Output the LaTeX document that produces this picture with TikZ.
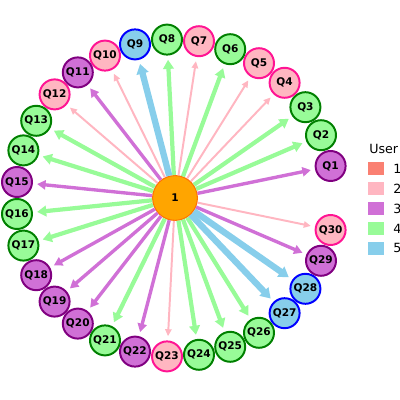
\documentclass[tikz,border=0pt]{standalone}
\usepackage{fontspec}
\setmainfont{DejaVu Sans}
\usetikzlibrary{arrows.meta}

\definecolor{usrsalmon}{HTML}{FA8072}
\definecolor{usrpink}{HTML}{FFB6C1}
\definecolor{usrorchid}{HTML}{D070D6}
\definecolor{usrgreen}{HTML}{98FB98}
\definecolor{usrblue}{HTML}{87CEEB}
\definecolor{usrorange}{HTML}{FFA500}
\definecolor{edgepink}{HTML}{FF1493}
\definecolor{edgepurple}{HTML}{800080}
\definecolor{edgegreen}{HTML}{008000}

\begin{document}
\begin{tikzpicture}[
  % Node Styles
  qnode/.style={circle, draw, line width=1.4pt, minimum size=0.75cm, inner sep=0pt, font=\bfseries\fontsize{7.5}{8}\selectfont},
  pinknode/.style={qnode, fill=usrpink, draw=edgepink},
  purplenode/.style={qnode, fill=usrorchid, draw=edgepurple},
  greennode/.style={qnode, fill=usrgreen, draw=edgegreen},
  bluenode/.style={qnode, fill=usrblue, draw=blue},
  unode/.style={circle, draw=orange!90!red, line width=0.8pt, fill=usrorange, minimum size=1.12cm, inner sep=0pt, font=\bfseries\fontsize{7.5}{8}\selectfont},
  keybox/.style={rectangle, minimum width=0.4cm, minimum height=0.33cm, inner sep=0pt},
  keytext/.style={anchor=west, inner sep=0pt, font=\fontsize{9}{10}\selectfont},
  % Arrow Styles
  pinkarrow/.style={-{Triangle[length=5pt, width=4.5pt]}, line width=1.4pt, draw=usrpink, shorten >=3pt},
  purplearrow/.style={-{Triangle[length=6pt, width=6.5pt]}, line width=2.4pt, draw=usrorchid, shorten >=3pt},
  greenarrow/.style={-{Triangle[length=6.5pt, width=7.5pt]}, line width=3pt, draw=usrgreen, shorten >=3pt},
  bluearrow/.style={-{Triangle[length=7pt, width=8.5pt]}, line width=4.5pt, draw=usrblue, shorten >=3pt},
]
\useasboundingbox (-4.375,-5.05) rectangle (5.625,4.95);

% User node
\node[unode] (U_1) at (0.00,0.00) {1};

% Question nodes
\node[purplenode] (Q1) at (3.89,0.80) {Q1};
\node[greennode] (Q2) at (3.65,1.57) {Q2};
\node[greennode] (Q3) at (3.26,2.27) {Q3};
\node[pinknode] (Q4) at (2.74,2.88) {Q4};
\node[pinknode] (Q5) at (2.10,3.37) {Q5};
\node[greennode] (Q6) at (1.38,3.72) {Q6};
\node[pinknode] (Q7) at (0.60,3.92) {Q7};
\node[greennode] (Q8) at (-0.20,3.96) {Q8};
\node[bluenode] (Q9) at (-1.00,3.84) {Q9};
\node[pinknode] (Q10) at (-1.75,3.56) {Q10};
\node[purplenode] (Q11) at (-2.43,3.14) {Q11};
\node[pinknode] (Q12) at (-3.01,2.59) {Q12};
\node[greennode] (Q13) at (-3.47,1.93) {Q13};
\node[greennode] (Q14) at (-3.79,1.19) {Q14};
\node[purplenode] (Q15) at (-3.95,0.40) {Q15};
\node[greennode] (Q16) at (-3.95,-0.40) {Q16};
\node[greennode] (Q17) at (-3.79,-1.19) {Q17};
\node[purplenode] (Q18) at (-3.47,-1.93) {Q18};
\node[purplenode] (Q19) at (-3.01,-2.59) {Q19};
\node[purplenode] (Q20) at (-2.43,-3.14) {Q20};
\node[greennode] (Q21) at (-1.75,-3.56) {Q21};
\node[purplenode] (Q22) at (-1.00,-3.84) {Q22};
\node[pinknode] (Q23) at (-0.20,-3.96) {Q23};
\node[greennode] (Q24) at (0.60,-3.92) {Q24};
\node[greennode] (Q25) at (1.38,-3.72) {Q25};
\node[greennode] (Q26) at (2.10,-3.37) {Q26};
\node[bluenode] (Q27) at (2.74,-2.88) {Q27};
\node[bluenode] (Q28) at (3.26,-2.27) {Q28};
\node[purplenode] (Q29) at (3.65,-1.57) {Q29};
\node[pinknode] (Q30) at (3.89,-0.80) {Q30};

% Answers
\draw[purplearrow] (U_1) -- (Q1);
\draw[greenarrow] (U_1) -- (Q2);
\draw[greenarrow] (U_1) -- (Q3);
\draw[pinkarrow] (U_1) -- (Q4);
\draw[pinkarrow] (U_1) -- (Q5);
\draw[greenarrow] (U_1) -- (Q6);
\draw[pinkarrow] (U_1) -- (Q7);
\draw[greenarrow] (U_1) -- (Q8);
\draw[bluearrow] (U_1) -- (Q9);
\draw[pinkarrow] (U_1) -- (Q10);
\draw[purplearrow] (U_1) -- (Q11);
\draw[pinkarrow] (U_1) -- (Q12);
\draw[greenarrow] (U_1) -- (Q13);
\draw[greenarrow] (U_1) -- (Q14);
\draw[purplearrow] (U_1) -- (Q15);
\draw[greenarrow] (U_1) -- (Q16);
\draw[greenarrow] (U_1) -- (Q17);
\draw[purplearrow] (U_1) -- (Q18);
\draw[purplearrow] (U_1) -- (Q19);
\draw[purplearrow] (U_1) -- (Q20);
\draw[greenarrow] (U_1) -- (Q21);
\draw[purplearrow] (U_1) -- (Q22);
\draw[pinkarrow] (U_1) -- (Q23);
\draw[greenarrow] (U_1) -- (Q24);
\draw[greenarrow] (U_1) -- (Q25);
\draw[greenarrow] (U_1) -- (Q26);
\draw[bluearrow] (U_1) -- (Q27);
\draw[bluearrow] (U_1) -- (Q28);
\draw[purplearrow] (U_1) -- (Q29);
\draw[pinkarrow] (U_1) -- (Q30);

% Legend
\node[keytext] (L_title) at (4.85,1.23) {User};
\node[keybox, fill=usrsalmon] (L_1) at (5.03,0.74) {};
\node[keybox, fill=usrpink] (L_2) at (5.03,0.24) {};
\node[keybox, fill=usrorchid] (L_3) at (5.03,-0.26) {};
\node[keybox, fill=usrgreen] (L_4) at (5.03,-0.76) {};
\node[keybox, fill=usrblue] (L_5) at (5.03,-1.26) {};
\node[keytext] (L_1t) at (5.45,0.74) {1};
\node[keytext] (L_2t) at (5.45,0.24) {2};
\node[keytext] (L_3t) at (5.45,-0.26) {3};
\node[keytext] (L_4t) at (5.45,-0.76) {4};
\node[keytext] (L_5t) at (5.45,-1.26) {5};

\end{tikzpicture}
\end{document}
